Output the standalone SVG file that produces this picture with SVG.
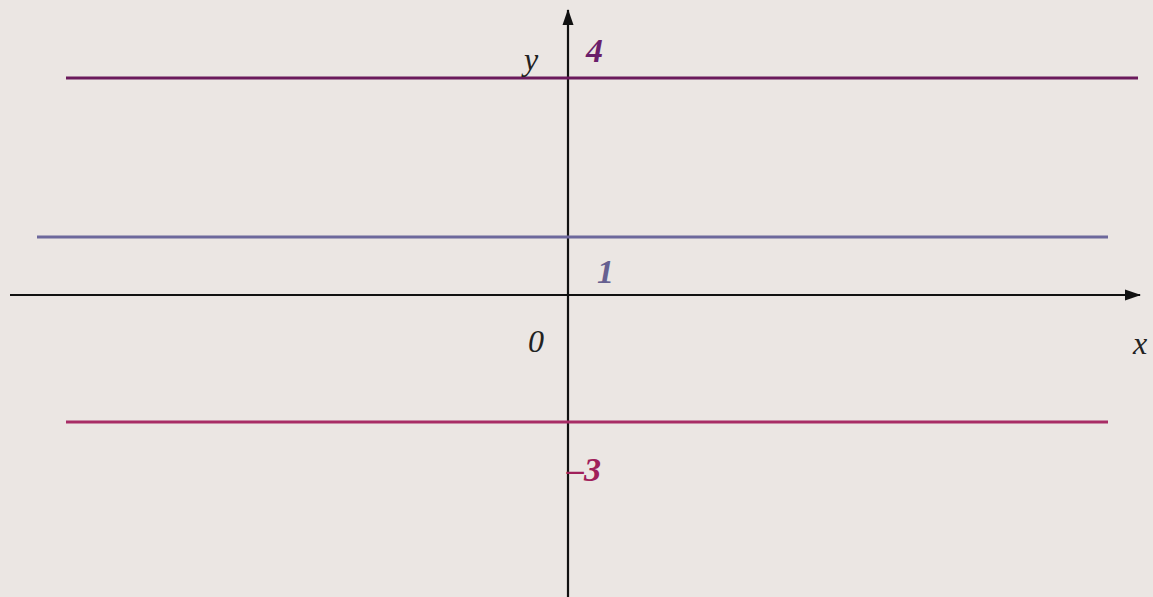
<svg xmlns="http://www.w3.org/2000/svg" width="1153" height="597" viewBox="0 0 1153 597">
<style>
.ax{stroke:#111;stroke-width:2.2;fill:none}
.ln{stroke-width:3.2;fill:none}
.lbl{font-family:"Liberation Serif",serif;font-style:italic;font-size:32px;fill:#222}
.num{font-family:"Liberation Serif",serif;font-style:italic;font-weight:bold;font-size:34px}
</style>
<defs>
<marker id="arr" viewBox="0 0 16 12" refX="15" refY="6" markerWidth="16" markerHeight="12" markerUnits="userSpaceOnUse" orient="auto">
<path d="M0,0.5 L16,6 L0,11.5 Z" fill="#111"/>
</marker>
</defs>
<rect width="1153" height="597" fill="#EBE6E3"/>
<g id="connectors">
<line class="ax" x1="10" y1="295" x2="1140" y2="295" marker-end="url(#arr)"/>
<line class="ax" x1="568" y1="597" x2="568" y2="10" marker-end="url(#arr)"/>
</g>
<g id="line4"><line class="ln" x1="66" y1="78" x2="1138" y2="78" stroke="#6B1A5C"/></g>
<g id="line1"><line class="ln" x1="37" y1="237" x2="1108" y2="237" stroke="#6D689C"/></g>
<g id="lineM3"><line class="ln" x1="66" y1="422" x2="1108" y2="422" stroke="#A82D66"/></g>
<g id="labels">
<text class="lbl" x="524" y="70">y</text>
<text class="num" x="586" y="62" fill="#6A1E6A">4</text>
<text class="num" x="597" y="283" fill="#666090">1</text>
<text class="lbl" x="528" y="352">0</text>
<text class="lbl" x="1133" y="354">x</text>
<text class="num" x="567" y="481" fill="#A0205A">–3</text>
</g>
</svg>
